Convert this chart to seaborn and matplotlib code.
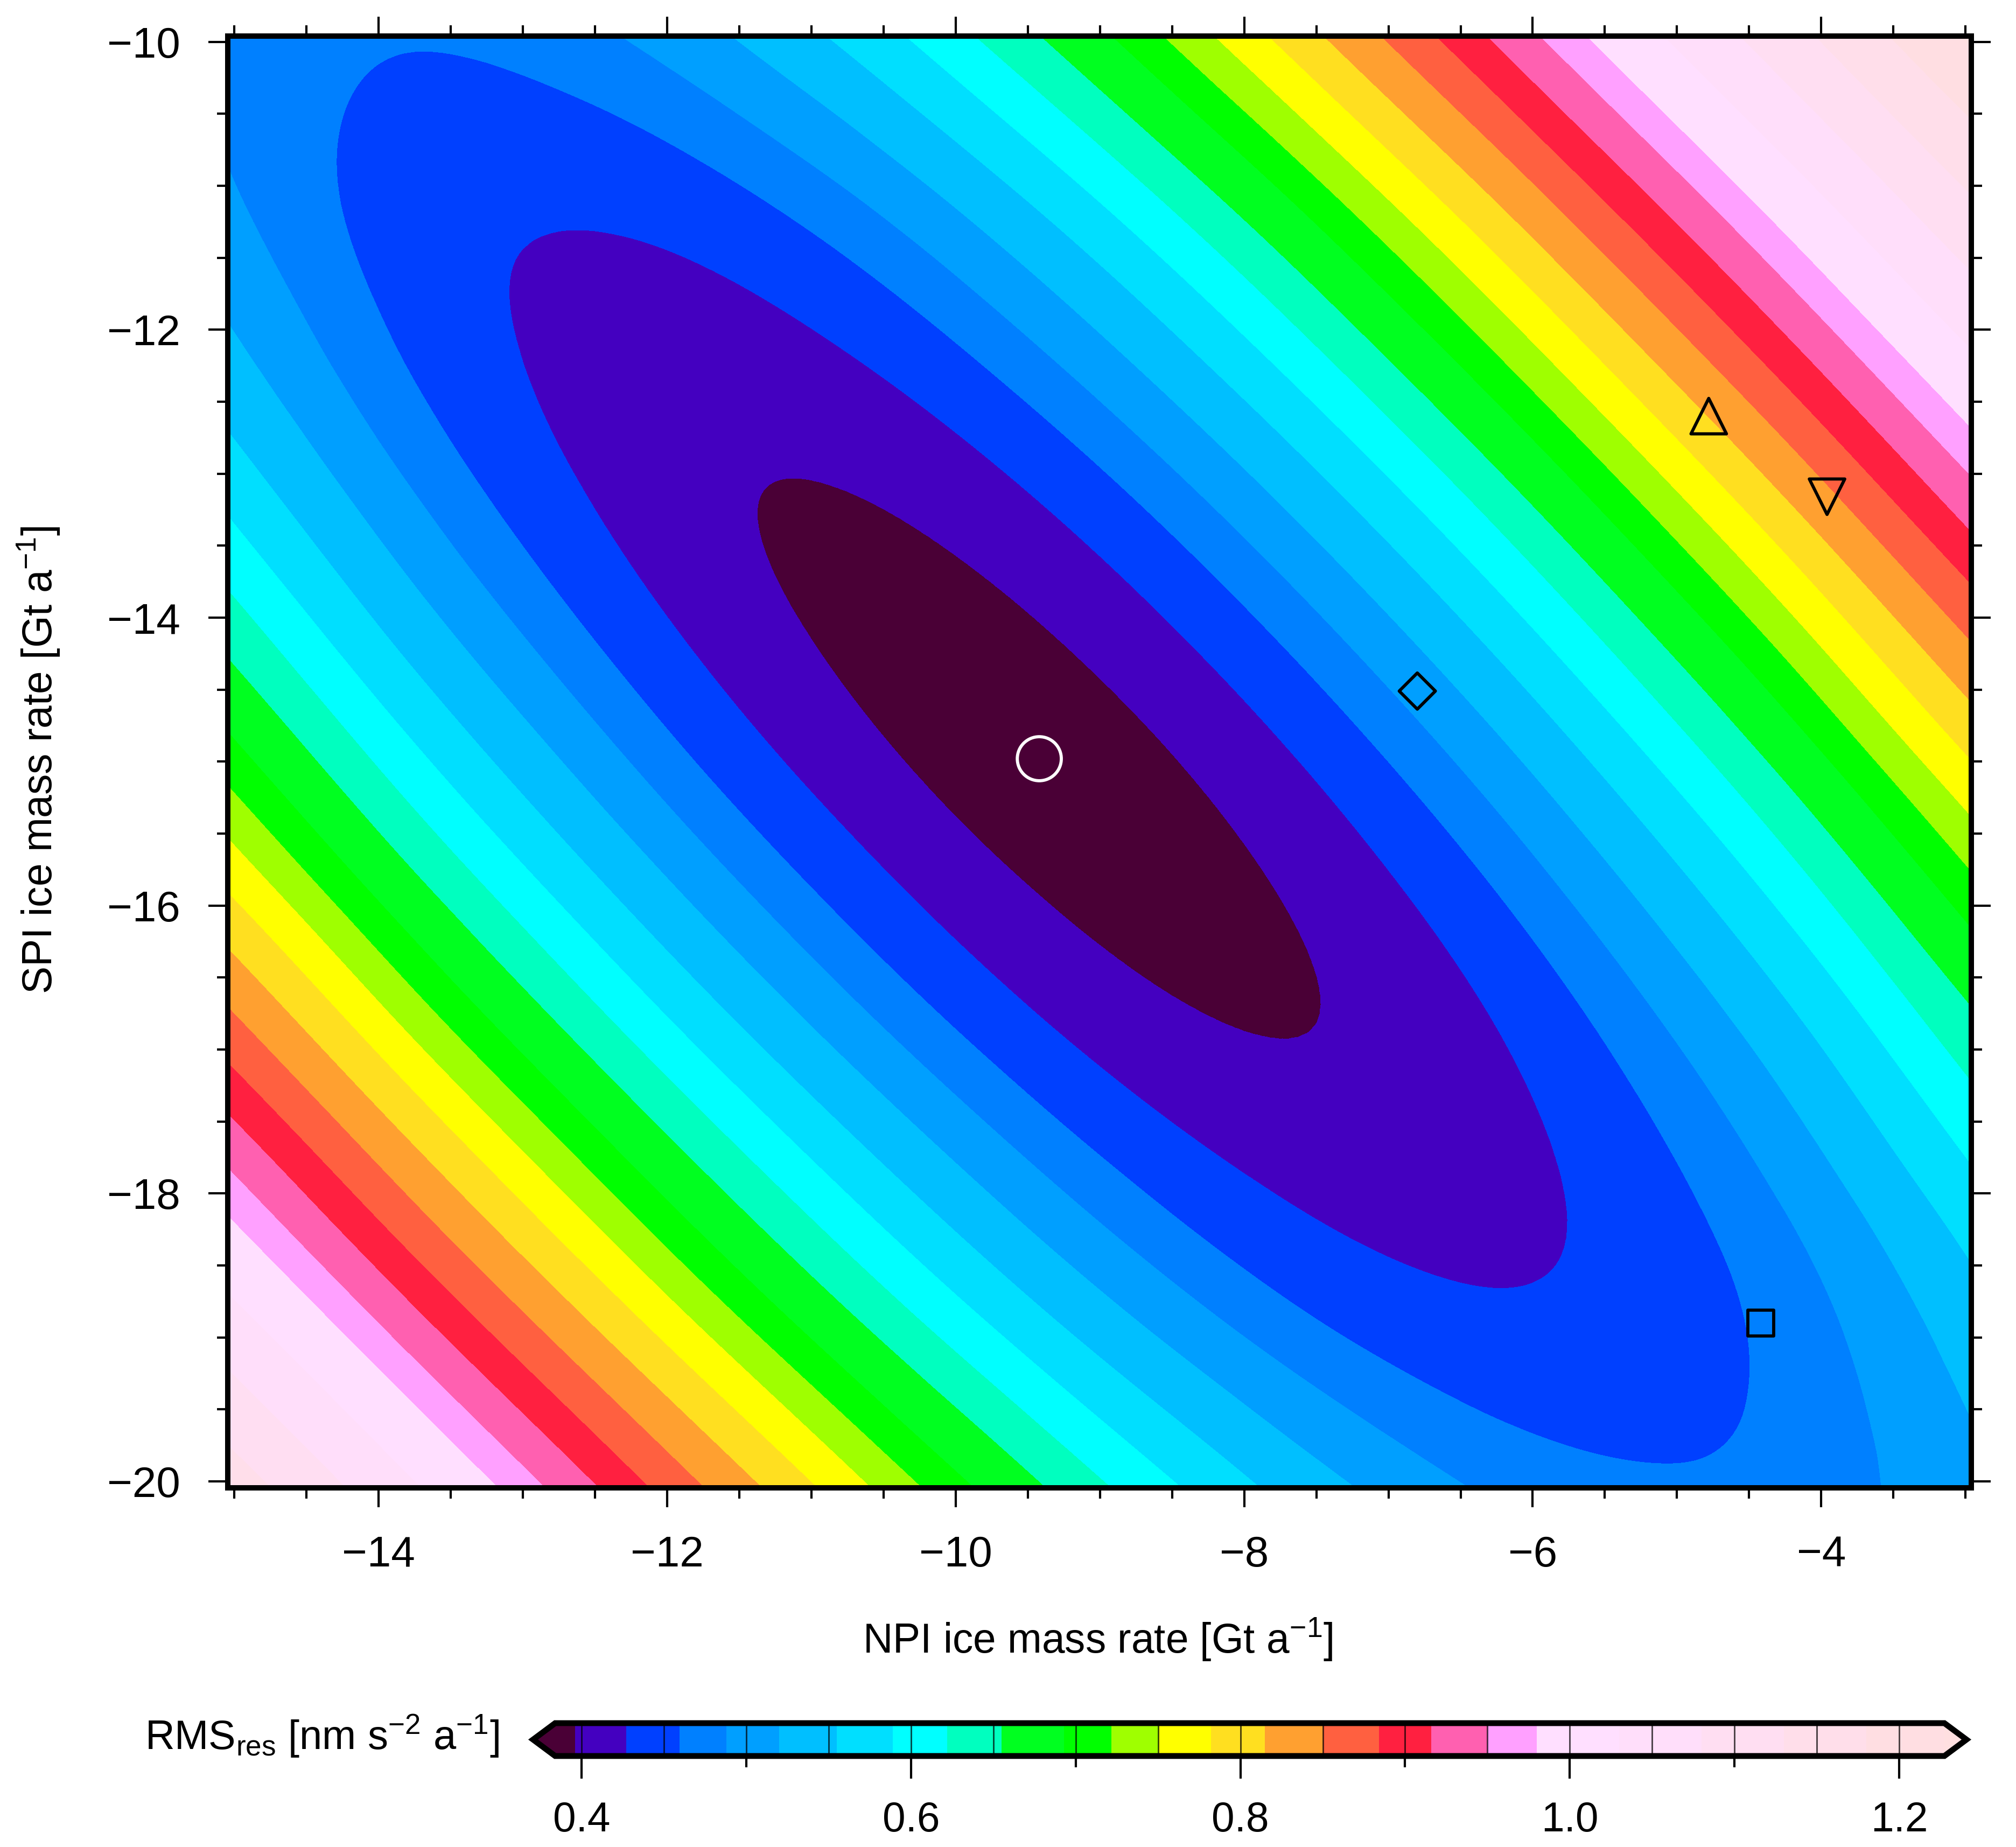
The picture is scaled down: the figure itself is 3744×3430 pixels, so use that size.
import numpy as np
import matplotlib
matplotlib.use("Agg")
import matplotlib.pyplot as plt
import matplotlib.ticker as mticker
import matplotlib.tri as mtri
import seaborn as sns

# 读图估计的数据: RMS^2 at 1 Gt/a nodes (outer nodes sit on the frame)
npi_nodes = [-15.05, -14, -13, -12, -11, -10, -9, -8, -7, -6, -5, -4, -2.95]
spi_nodes = [-9.95, -11, -12, -13, -14, -15, -16, -17, -18, -19, -20.05]
rms2_row_m10 = [0.2311, 0.2144, 0.2213, 0.2505, 0.3021, 0.3760, 0.4722, 0.5907, 0.7316, 0.8948, 1.0802, 1.2880, 1.5302]
rms2_row_m11 = [0.2407, 0.2025, 0.1889, 0.1977, 0.2289, 0.2823, 0.3581, 0.4561, 0.5765, 0.7192, 0.8842, 1.0716, 1.2923]
rms2_row_m12 = [0.2727, 0.2140, 0.1810, 0.1703, 0.1820, 0.2159, 0.2722, 0.3508, 0.4517, 0.5749, 0.7205, 0.8883, 1.0886]
rms2_row_m13 = [0.3270, 0.2479, 0.1954, 0.1653, 0.1574, 0.1719, 0.2087, 0.2678, 0.3492, 0.4529, 0.5790, 0.7274, 0.9072]
rms2_row_m14 = [0.4037, 0.3041, 0.2321, 0.1825, 0.1552, 0.1502, 0.1675, 0.2071, 0.2690, 0.3533, 0.4599, 0.5888, 0.7481]
rms2_row_m15 = [0.5027, 0.3826, 0.2912, 0.2220, 0.1752, 0.1507, 0.1486, 0.1687, 0.2112, 0.2759, 0.3630, 0.4725, 0.6114]
rms2_row_m16 = [0.6239, 0.4835, 0.3725, 0.2839, 0.2176, 0.1736, 0.1520, 0.1526, 0.1756, 0.2209, 0.2885, 0.3785, 0.4969]
rms2_row_m17 = [0.7676, 0.6066, 0.4762, 0.3681, 0.2823, 0.2189, 0.1777, 0.1589, 0.1624, 0.1882, 0.2363, 0.3068, 0.4048]
rms2_row_m18 = [0.9335, 0.7521, 0.6022, 0.4746, 0.3693, 0.2864, 0.2258, 0.1875, 0.1715, 0.1778, 0.2065, 0.2574, 0.3350]
rms2_row_m19 = [1.1217, 0.9199, 0.7505, 0.6034, 0.4787, 0.3763, 0.2962, 0.2384, 0.2029, 0.1898, 0.1989, 0.2304, 0.2875]
rms2_row_m20 = [1.3434, 1.1201, 0.9302, 0.7627, 0.6175, 0.4946, 0.3941, 0.3158, 0.2599, 0.2263, 0.2150, 0.2261, 0.2617]

# colour steps of the bar
levels = [0.384, 0.396, 0.427, 0.4595, 0.488, 0.520, 0.555, 0.589, 0.622, 0.655,
          0.693, 0.7216, 0.7506, 0.782, 0.815, 0.850, 0.884, 0.916, 0.950, 0.980,
          1.03, 1.08, 1.13, 1.18, 1.2274]
colors = ["#4a0036", "#4a0036", "#4400c0", "#0040ff", "#0080ff", "#009fff", "#00bfff",
          "#00dfff", "#00ffff", "#00ffbf", "#00ff20", "#00ff00", "#9fff00", "#ffff00",
          "#ffdf20", "#ffa030", "#ff6040", "#ff2040", "#ff60b0", "#ffa0ff", "#ffdfff",
          "#ffdefa", "#ffdef2", "#ffdeea", "#ffdee2", "#ffdfe0"]

# model points
point_x = [-9.42, -6.80, -4.78, -3.96, -4.42]
point_y = [-14.98, -14.51, -12.60, -13.16, -18.90]
point_marker = ["o", "D", "^", "v", "s"]
point_size = [385, 130, 250, 250, 132]
point_color = ["white", "black", "black", "black", "black"]

W, H = 3744, 3430
sns.set_theme(style="ticks", rc={
    "axes.linewidth": 2.4,
    "mathtext.default": "regular",
    "mathtext.fontset": "custom",
    "mathtext.rm": "Liberation Sans",
    "xtick.direction": "out",
    "ytick.direction": "out",
})
plt.rcParams["font.family"] = ["Liberation Sans", "DejaVu Sans"]

fig = plt.figure(figsize=(W / 300, H / 300), dpi=300, facecolor="white")
ax = fig.add_axes([423 / W, 1 - 2763 / H, (3661 - 423) / W, (2763 - 67) / H])

X, Y = np.meshgrid(npi_nodes, spi_nodes)
rms2 = np.array([rms2_row_m10, rms2_row_m11, rms2_row_m12, rms2_row_m13, rms2_row_m14, rms2_row_m15,
                 rms2_row_m16, rms2_row_m17, rms2_row_m18, rms2_row_m19, rms2_row_m20])
tri = mtri.Triangulation(X.ravel(), Y.ravel())
refiner = mtri.UniformTriRefiner(tri)
interp = mtri.CubicTriInterpolator(tri, rms2.ravel(), kind="min_E")
tri_fine, rms2_fine = refiner.refine_field(rms2.ravel(), triinterpolator=interp, subdiv=4)

cf = ax.tricontourf(tri_fine, np.sqrt(rms2_fine), levels=levels, colors=colors, extend="both")

for x, y, m, s, c in zip(point_x, point_y, point_marker, point_size, point_color):
    sns.scatterplot(x=[x], y=[y], marker=m, s=s, facecolor="none", edgecolor=c,
                    linewidth=1.4, ax=ax, legend=False, zorder=5)

ax.set_xlim(-15.045, -2.96)
ax.set_ylim(-20.045, -9.96)
ax.set_xticks(np.arange(-14, -3, 2))
ax.set_xticks(np.arange(-15, -2.9, 0.5), minor=True)
ax.set_yticks(np.arange(-20, -9, 2))
ax.set_yticks(np.arange(-20, -9.9, 0.5), minor=True)
ax.tick_params(which="major", length=8.6, width=1.0, top=True, right=True,
               labelsize=19.2, pad=12.5, color="black", labelcolor="black")
ax.tick_params(which="minor", length=4.8, width=1.0, top=True, right=True, color="black")
for s in ax.spines.values():
    s.set_color("black")
    s.set_zorder(10)

fig.text(2039 / W, 1 - 3045 / H, "NPI ice mass rate [Gt a$^{-1}$]", fontsize=18.4,
         ha="center", va="center", color="black")
fig.text(72 / W, 1 - 1411 / H, "SPI ice mass rate [Gt a$^{-1}$]", fontsize=18.4,
         rotation=90, ha="center", va="center", color="black")

cax = fig.add_axes([990 / W, 1 - 3261 / H, (3652 - 990) / W, 61 / H])
cb = fig.colorbar(cf, cax=cax, orientation="horizontal", spacing="proportional",
                  extendfrac=0.0159, ticks=[0.4, 0.6, 0.8, 1.0, 1.2])
cb.outline.set_linewidth(2.6)
cb.outline.set_edgecolor("black")
cb.ax.xaxis.set_minor_locator(mticker.FixedLocator([0.5, 0.7, 0.9, 1.1]))
cb.ax.tick_params(which="major", length=10, width=1.0, labelsize=18.4, pad=10,
                  color="black", labelcolor="black")
cb.ax.tick_params(which="minor", length=5, width=1.0, color="black")
cb.ax.set_xticklabels(["0.4", "0.6", "0.8", "1.0", "1.2"])
for v in np.arange(0.4, 1.21, 0.05):
    cb.ax.axvline(v, color="black", lw=0.7, alpha=0.7)

fig.text(927 / W, 1 - 3224 / H, "RMS$_{res}$ [nm s$^{-2}$ a$^{-1}$]", fontsize=18.2,
         ha="right", va="center", color="black")

fig.savefig("out.png", dpi=300, facecolor="white")
